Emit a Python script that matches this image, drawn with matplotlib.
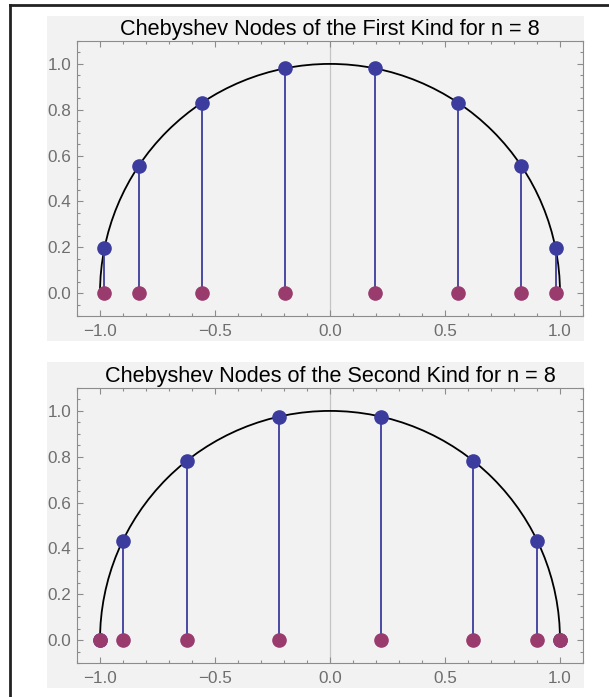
import matplotlib
matplotlib.use('Agg')
import matplotlib.pyplot as plt
from matplotlib.patches import Arc, Rectangle
from matplotlib.ticker import MultipleLocator

plt.rcParams['font.family'] = ['Liberation Sans', 'DejaVu Sans']

# node data
first_x = [-0.981, -0.831, -0.556, -0.195, 0.195, 0.556, 0.831, 0.981]
first_y = [0.195, 0.556, 0.831, 0.981, 0.981, 0.831, 0.556, 0.195]
second_x = [-1.0, -0.901, -0.623, -0.223, 0.223, 0.623, 0.901, 1.0]
second_y = [0.0, 0.434, 0.782, 0.975, 0.975, 0.782, 0.434, 0.0]
titles = ["Chebyshev Nodes of the First Kind for n = 8",
          "Chebyshev Nodes of the Second Kind for n = 8"]

blue = '#3c3c9e'
purple = '#9a3b6e'
frame_col = '#8c8c8c'
label_col = '#6e6e6e'

W, H = 609, 697
fig = plt.figure(figsize=(W / 100, H / 100), dpi=100)

# gray panel backgrounds
for top, bot in [(16, 341), (362, 688)]:
    fig.patches.append(Rectangle((47 / W, 1 - bot / H), (584 - 47) / W, (bot - top) / H,
                                 transform=fig.transFigure, facecolor='#f2f2f2',
                                 edgecolor='none', zorder=-5))

# border on top and left
fig.add_artist(plt.Line2D([9.5 / W, 1], [1 - 4.5 / H, 1 - 4.5 / H], color='#222222', lw=2, transform=fig.transFigure))
fig.add_artist(plt.Line2D([9.5 / W, 9.5 / W], [0, 1 - 4.5 / H], color='#222222', lw=2, transform=fig.transFigure))

ax1 = fig.add_axes([77 / W, 1 - 316 / H, 506 / W, 275 / H])
ax2 = fig.add_axes([77 / W, 1 - 663 / H, 506 / W, 275 / H])

for ax, xs, ys, title in [(ax1, first_x, first_y, titles[0]), (ax2, second_x, second_y, titles[1])]:
    ax.set_facecolor('#f2f2f2')
    ax.set_xlim(-1.1, 1.1)
    ax.set_ylim(-0.1, 1.1)
    ax.axvline(0, color='#c4c4c4', lw=0.9, zorder=1)
    ax.add_patch(Arc((0, 0), 2, 2, theta1=0, theta2=180, color='black', lw=1.3, zorder=2))
    ax.vlines(xs, 0, ys, color=blue, lw=1.3, zorder=3)
    ax.plot(xs, ys, 'o', color=blue, ms=9.5, zorder=4)
    ax.plot(xs, [0] * len(xs), 'o', color=purple, ms=9.5, zorder=5)
    ax.set_title(title, fontsize=15.6, pad=4)
    ax.xaxis.set_major_locator(MultipleLocator(0.5))
    ax.xaxis.set_minor_locator(MultipleLocator(0.1))
    ax.yaxis.set_major_locator(MultipleLocator(0.2))
    ax.yaxis.set_minor_locator(MultipleLocator(0.05))
    ax.tick_params(which='both', direction='in', top=True, right=True, color=frame_col, width=0.8)
    ax.tick_params(which='major', length=4, labelsize=12.3, labelcolor=label_col)
    ax.tick_params(which='minor', length=2.5)
    ax.tick_params(axis='x', pad=6)
    ax.tick_params(axis='y', pad=4)
    for sp in ax.spines.values():
        sp.set_color(frame_col)
        sp.set_linewidth(0.8)

fig.savefig('out.png', dpi=100)
